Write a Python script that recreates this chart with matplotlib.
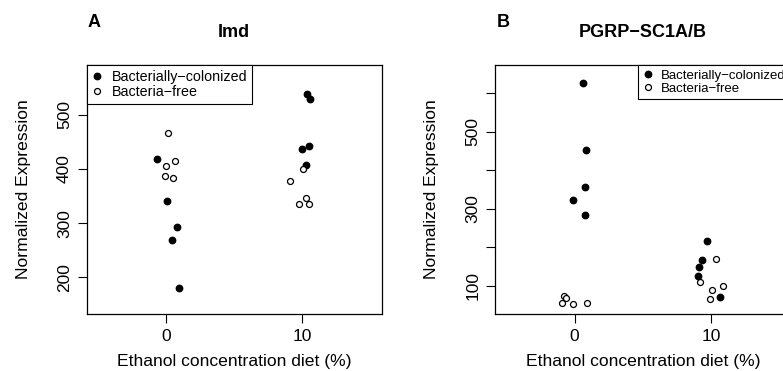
import matplotlib.pyplot as plt

plt.rcParams['font.family'] = ['Liberation Sans', 'DejaVu Sans']

# panel A: Imd
imd_col_x = [-0.66, 0.1, 0.8, 0.44, 0.98, 10.32, 10.56, 10.44, 9.95, 10.24]
imd_col_y = [419, 340, 293, 269, 180, 539, 530, 442, 436, 407]
imd_free_x = [0.12, 0.0, 0.68, -0.07, 0.49, 10.07, 9.07, 10.27, 9.76, 10.49]
imd_free_y = [467, 406, 414, 387, 384, 400, 378, 347, 335, 335]

# panel B: PGRP-SC1A/B
pgrp_col_x = [0.63, 0.83, 0.78, -0.12, 0.73, 9.73, 9.32, 9.1, 9.07, 10.63]
pgrp_col_y = [625, 451, 355, 322, 284, 215, 167, 148, 124, 71]
pgrp_free_x = [-0.78, -0.66, -0.9, -0.12, 0.93, 10.34, 9.15, 10.88, 10.05, 9.9]
pgrp_free_y = [72, 67, 55, 53, 54, 168, 110, 100, 89, 66]

xticks = [0, 10]
xlabel = "Ethanol concentration diet (%)"
ylabel = "Normalized Expression"
legend_labels = ["Bacterially\u2212colonized", "Bacteria\u2212free"]


def draw_panel(ax, col_x, col_y, free_x, free_y, title, letter, ylim, yticks, ylabels,
               legend_loc, legend_anchor, legend_size):
    ax.plot(col_x, col_y, 'o', color='black', markersize=4.6, linestyle='none',
            label=legend_labels[0])
    ax.plot(free_x, free_y, 'o', markerfacecolor='white', markeredgecolor='black',
            markeredgewidth=0.9, markersize=4.3, linestyle='none', label=legend_labels[1])
    ax.set_xlim(-5.8, 15.8)
    ax.set_ylim(*ylim)
    ax.set_xticks(xticks)
    ax.set_yticks(yticks)
    ax.set_yticklabels(ylabels, rotation=90, va='center')
    ax.tick_params(labelsize=12.5, length=6.5, width=0.8, pad=4)
    ax.set_xlabel(xlabel, fontsize=12.6, labelpad=7.5)
    ax.set_ylabel(ylabel, fontsize=12.6, labelpad=19)
    for s in ax.spines.values():
        s.set_linewidth(0.9)
    ax.set_title(title, fontsize=13, fontweight='bold', pad=20)
    ax.text(0.004, 1.169, letter, transform=ax.transAxes, fontsize=13,
            fontweight='bold', ha='left', va='center')
    leg = ax.legend(loc=legend_loc, bbox_to_anchor=legend_anchor, borderaxespad=0,
                    fontsize=legend_size, fancybox=False, edgecolor='black',
                    framealpha=1, handlelength=0.8, handletextpad=0.6,
                    labelspacing=0.05, borderpad=0.35)
    leg.get_frame().set_linewidth(0.8)


fig = plt.figure(figsize=(7.83, 3.71), dpi=100)
ax1 = fig.add_axes([0.1107, 0.1536, 0.3768, 0.6712])
ax2 = fig.add_axes([0.6326, 0.1536, 0.3768, 0.6712])

draw_panel(ax1, imd_col_x, imd_col_y, imd_free_x, imd_free_y, "Imd", "A",
           (132, 592), [200, 300, 400, 500], ["200", "300", "400", "500"],
           'upper left', (0, 1), 10.3)
draw_panel(ax2, pgrp_col_x, pgrp_col_y, pgrp_free_x, pgrp_free_y, "PGRP\u2212SC1A/B", "B",
           (26, 673), [100, 200, 300, 400, 500, 600], ["100", "", "300", "", "500", ""],
           'upper right', (1, 1), 9.5)

fig.savefig("out.png", dpi=100)
